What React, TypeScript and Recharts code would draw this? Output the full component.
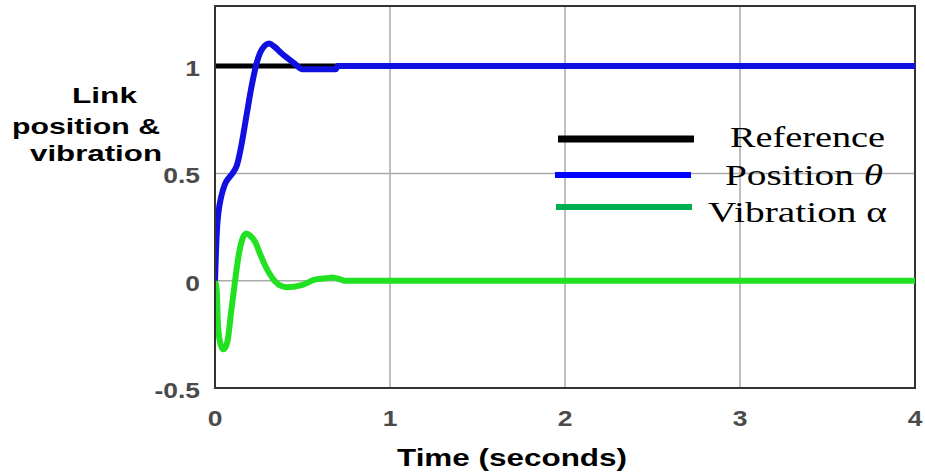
import React from "react";
import { LineChart, Line, XAxis, YAxis, CartesianGrid, ReferenceArea } from "recharts";

// time (s) and values
const refTime = [0, 4];
const refValue = [1, 1];

const posTime = [0, 0.005, 0.012, 0.02, 0.035, 0.057, 0.08, 0.1, 0.126, 0.154, 0.18, 0.21, 0.24, 0.27, 0.31, 0.34, 0.38, 0.45, 0.5, 0.69, 0.7, 4];
const posValue = [0, 0.12, 0.25, 0.32, 0.39, 0.45, 0.48, 0.5, 0.54, 0.645, 0.77, 0.91, 1.02, 1.08, 1.105, 1.09, 1.06, 1.015, 0.985, 0.985, 1.0, 1.0];

const vibTime = [0, 0.01, 0.017, 0.03, 0.046, 0.06, 0.074, 0.09, 0.11, 0.14, 0.165, 0.18, 0.2, 0.23, 0.26, 0.29, 0.34, 0.38, 0.41, 0.45, 0.5, 0.57, 0.62, 0.67, 0.72, 0.74, 4];
const vibValue = [0, -0.05, -0.21, -0.29, -0.32, -0.31, -0.27, -0.16, -0.03, 0.14, 0.21, 0.22, 0.21, 0.18, 0.12, 0.065, 0, -0.025, -0.03, -0.028, -0.02, 0.005, 0.01, 0.015, 0.005, 0, 0];

const xTicks = [0, 1, 2, 3, 4];
const yTicks = [-0.5, 0, 0.5, 1];
const yLabelLines = ["Link", "position &", "vibration"];
const xLabel = "Time (seconds)";
const legendNames = ["Reference", "Position ", "Vibration \u03b1"];

const toRows = (t: number[], v: number[]) => t.map((x, i) => ({ t: x, v: v[i] }));
const refData = toRows(refTime, refValue);
const posData = toRows(posTime, posValue);
const vibData = toRows(vibTime, vibValue);

const SANS = "'Liberation Sans', Arial, sans-serif";
const SERIF = "'Liberation Serif', 'Times New Roman', serif";
const TICK_SX = 1.2;

const stretch = (x: number, y: number, sx: number) =>
  `translate(${x},${y}) scale(${sx},1) translate(${-x},${-y})`;

// eslint-disable-next-line @typescript-eslint/no-explicit-any
const YTick = ({ x, y, payload }: any) => (
  <text x={x} y={y + 2} textAnchor="end" dy="0.36em" fontFamily={SANS} fontSize={22} fontWeight={600}
    fill="#4a4a4a" transform={stretch(x, y, TICK_SX)}>
    {String(payload.value)}
  </text>
);

// eslint-disable-next-line @typescript-eslint/no-explicit-any
const XTick = ({ x, y, payload }: any) => (
  <text x={x} y={y} textAnchor="middle" dy="0.72em" fontFamily={SANS} fontSize={22} fontWeight={600}
    fill="#4a4a4a" transform={stretch(x, y, TICK_SX)}>
    {String(payload.value)}
  </text>
);

const Overlay = () => (
  <svg width={925} height={475} style={{ position: "absolute", left: 0, top: 0, pointerEvents: "none" }}>
    <g fontFamily={SANS} fontWeight="bold" fontSize={22} fill="#000">
      <text x={72} y={103} textLength={65} lengthAdjust="spacingAndGlyphs">{yLabelLines[0]}</text>
      <text x={12} y={134} textLength={148} lengthAdjust="spacingAndGlyphs">{yLabelLines[1]}</text>
      <text x={30} y={161} textLength={132} lengthAdjust="spacingAndGlyphs">{yLabelLines[2]}</text>
      <text x={397} y={466} fontSize={23} textLength={230} lengthAdjust="spacingAndGlyphs">{xLabel}</text>
    </g>
    <g>
      <line x1={558} x2={694} y1={139} y2={139} stroke="#000" strokeWidth={7} />
      <line x1={555} x2={691} y1={175} y2={175} stroke="#0000ff" strokeWidth={6} />
      <line x1={556} x2={692} y1={207} y2={207} stroke="#00b050" strokeWidth={6} />
    </g>
    <g fontFamily={SERIF} fontSize={30} fill="#000">
      <text x={730} y={147} textLength={155} lengthAdjust="spacingAndGlyphs">{legendNames[0]}</text>
      <text x={725} y={185} textLength={158} lengthAdjust="spacingAndGlyphs">
        {legendNames[1]}<tspan fontStyle="italic">{"\u03b8"}</tspan>
      </text>
      <text x={708} y={222} textLength={179} lengthAdjust="spacingAndGlyphs">{legendNames[2]}</text>
    </g>
  </svg>
);

export default function App() {
  return (
    <div style={{ position: "absolute", left: 0, top: 0, width: 925, height: 475, background: "#fff" }}>
      <LineChart width={925} height={475} margin={{ top: 6, right: 10, bottom: 0, left: 0 }}>
        <CartesianGrid stroke="#aaaaaa" strokeWidth={1.5} />
        <XAxis dataKey="t" type="number" domain={[0, 4]} ticks={xTicks} height={87}
          axisLine={{ stroke: "#333", strokeWidth: 2 }} tickLine={false} tickSize={0} tickMargin={22}
          tick={<XTick />} allowDataOverflow />
        <YAxis type="number" domain={[-0.5, 1.28]} ticks={yTicks} width={215}
          axisLine={{ stroke: "#333", strokeWidth: 2 }} tickLine={false} tickSize={0} tickMargin={15}
          tick={<YTick />} allowDataOverflow />
        <ReferenceArea x1={0} x2={4} y1={-0.5} y2={1.28} fill="none" stroke="#333" strokeWidth={2} />
        <Line data={refData} dataKey="v" type="linear" stroke="#000" strokeWidth={5} dot={false}
          isAnimationActive={false} />
        <Line data={vibData} dataKey="v" type="monotone" stroke="#22e022" strokeWidth={6} dot={false}
          isAnimationActive={false} />
        <Line data={posData} dataKey="v" type="monotone" stroke="#1010e0" strokeWidth={6} dot={false}
          isAnimationActive={false} />
      </LineChart>
      <Overlay />
    </div>
  );
}
